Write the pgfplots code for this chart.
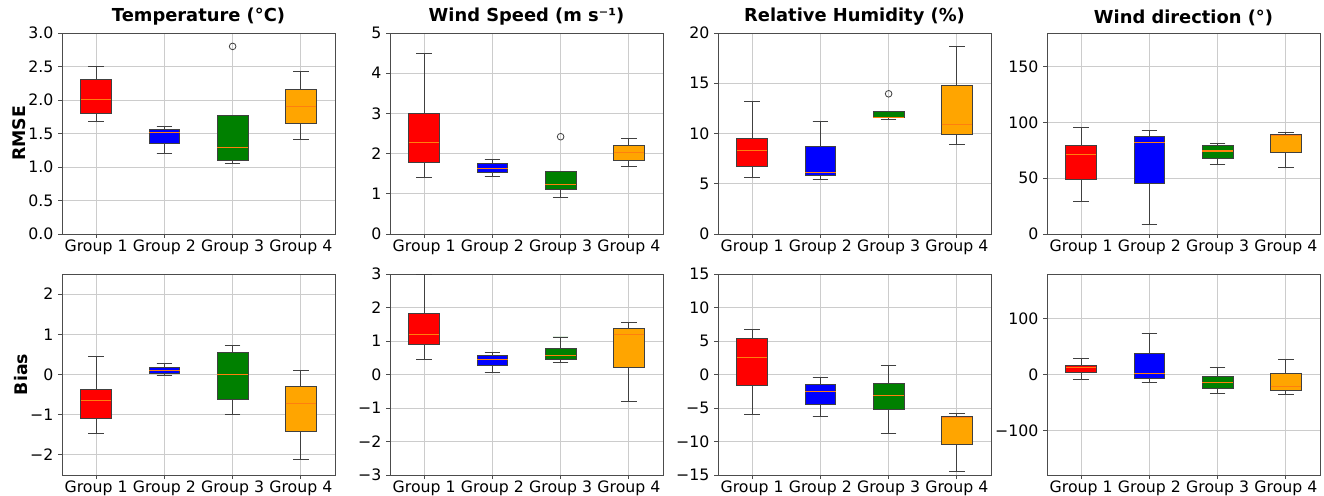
\documentclass[border=0pt]{standalone}
\usepackage{pgfplots}
\pgfplotsset{compat=1.18}
\usepgfplotslibrary{statistics}
\usepackage{fontspec}
\setmainfont{DejaVu Sans}
\definecolor{mgreen}{RGB}{0,128,0}
\definecolor{morange}{RGB}{255,165,0}
\definecolor{mmed}{RGB}{255,127,14}
\newcommand{\bx}[8]{%
\addplot[boxplot prepared={draw position=#1, lower whisker=#3, lower quartile=#4, median=#5, upper quartile=#6, upper whisker=#7, box extend=0.45, whisker extend=0.225},
  draw=black!75, line width=0.7pt, fill=#2, mark=o, mark size=2.5pt, mark options={draw=black!75, fill=none, line width=0.6pt}] coordinates {#8};}
\pgfplotsset{mystyle/.style={scale only axis, width=204.75pt, height=150.75pt,
  xmin=0.5, xmax=4.5, xtick={1,2,3,4}, xticklabels={Group 1,Group 2,Group 3,Group 4},
  boxplot/draw direction=y,
  grid=major, major grid style={black!20, line width=0.6pt},
  axis line style={black!70, line width=0.7pt},
  tick align=outside, major tick length=3pt, tick style={black!70, line width=0.6pt},
  xtick pos=left, ytick pos=left,
  ticklabel style={font=\fontsize{11.8}{14}\selectfont},
  xticklabel style={yshift=2.5pt},
  title style={font=\bfseries\fontsize{13.4}{16}\selectfont, yshift=-4pt},
  ylabel style={font=\bfseries\fontsize{13}{16}\selectfont},
  ylabel shift=-5pt,
  boxplot/every median/.style={draw=mmed, line width=0.8pt},
  anchor=south west}}
\begin{document}
\begin{tikzpicture}
\path[use as bounding box] (0,0) rectangle (993pt,372pt);
% ---------- top row ----------
\begin{axis}[mystyle, at={(46.5pt,196.5pt)}, title={Temperature (°C)}, ylabel={RMSE},
  ymin=0, ymax=3, ytick={0,0.5,1,1.5,2,2.5,3}, yticklabels={0.0,0.5,1.0,1.5,2.0,2.5,3.0}]
\bx{1}{red}{1.674}{1.80}{2.01}{2.30}{2.506}{}
\bx{2}{blue}{1.20}{1.355}{1.52}{1.565}{1.61}{}
\bx{3}{mgreen}{1.046}{1.10}{1.285}{1.774}{1.774}{(3,2.80)}
\bx{4}{morange}{1.405}{1.654}{1.90}{2.157}{2.42}{}
\end{axis}
\begin{axis}[mystyle, at={(292.5pt,196.5pt)}, title={Wind Speed (m s⁻¹)},
  ymin=0, ymax=5, ytick={0,1,2,3,4,5}, yticklabels={0,1,2,3,4,5}]
\bx{1}{red}{1.40}{1.79}{2.28}{3.01}{4.49}{}
\bx{2}{blue}{1.42}{1.53}{1.64}{1.745}{1.85}{}
\bx{3}{mgreen}{0.91}{1.11}{1.24}{1.545}{1.545}{(3,2.42)}
\bx{4}{morange}{1.69}{1.84}{2.02}{2.19}{2.38}{}
\end{axis}
\begin{axis}[mystyle, at={(538.5pt,196.5pt)}, title={Relative Humidity (\%)},
  ymin=0, ymax=20, ytick={0,5,10,15,20}, yticklabels={0,5,10,15,20}]
\bx{1}{red}{5.58}{6.74}{8.27}{9.50}{13.16}{}
\bx{2}{blue}{5.45}{5.81}{6.15}{8.74}{11.23}{}
\bx{3}{mgreen}{11.36}{11.55}{11.62}{12.2}{12.2}{(3,13.95)}
\bx{4}{morange}{8.94}{9.93}{10.93}{14.78}{18.7}{}
\end{axis}
\begin{axis}[mystyle, at={(785.25pt,196.5pt)}, title={Wind direction (°)},
  ymin=0, ymax=180, ytick={0,50,100,150}, yticklabels={0,50,100,150}]
\bx{1}{red}{28.7}{48.5}{71.3}{79.3}{95.8}{}
\bx{2}{blue}{8.7}{45.5}{82.0}{87.4}{92.8}{}
\bx{3}{mgreen}{62.3}{67.7}{74.3}{79.6}{81.1}{}
\bx{4}{morange}{59.6}{72.8}{88.0}{88.9}{91.3}{}
\end{axis}
% ---------- bottom row ----------
\begin{axis}[mystyle, at={(46.5pt,15.75pt)}, ylabel={Bias},
  ymin=-2.5, ymax=2.5, ytick={-2,-1,0,1,2}, yticklabels={−2,−1,0,1,2}]
\bx{1}{red}{-1.47}{-1.095}{-0.64}{-0.365}{0.448}{}
\bx{2}{blue}{-0.017}{0.025}{0.09}{0.166}{0.274}{}
\bx{3}{mgreen}{-0.988}{-0.622}{0.0}{0.548}{0.714}{}
\bx{4}{morange}{-2.12}{-1.42}{-0.714}{-0.307}{0.10}{}
\end{axis}
\begin{axis}[mystyle, at={(292.5pt,15.75pt)},
  ymin=-3, ymax=3, ytick={-3,-2,-1,0,1,2,3}, yticklabels={−3,−2,−1,0,1,2,3}]
\bx{1}{red}{0.45}{0.90}{1.19}{1.815}{2.98}{}
\bx{2}{blue}{0.07}{0.26}{0.45}{0.56}{0.66}{}
\bx{3}{mgreen}{0.35}{0.45}{0.58}{0.79}{1.12}{}
\bx{4}{morange}{-0.80}{0.20}{1.19}{1.37}{1.555}{}
\end{axis}
\begin{axis}[mystyle, at={(538.5pt,15.75pt)},
  ymin=-15, ymax=15, ytick={-15,-10,-5,0,5,10,15}, yticklabels={−15,−10,−5,0,5,10,15}]
\bx{1}{red}{-6.03}{-1.59}{2.54}{5.38}{6.73}{}
\bx{2}{blue}{-6.33}{-4.48}{-2.59}{-1.49}{-0.40}{}
\bx{3}{mgreen}{-8.87}{-5.23}{-3.09}{-1.35}{1.30}{}
\bx{4}{morange}{-14.45}{-10.51}{-6.43}{-6.28}{-5.83}{}
\end{axis}
\begin{axis}[mystyle, at={(785.25pt,15.75pt)},
  ymin=-180, ymax=180, ytick={-100,0,100}, yticklabels={−100,0,100}]
\bx{1}{red}{-8.4}{3.6}{13.2}{16.8}{28.7}{}
\bx{2}{blue}{-13.8}{-6.6}{2.4}{37.7}{73.7}{}
\bx{3}{mgreen}{-34.1}{-25.1}{-15.0}{-3.0}{12.0}{}
\bx{4}{morange}{-36.5}{-28.7}{-21.0}{2.4}{26.9}{}
\end{axis}
\end{tikzpicture}
\end{document}
